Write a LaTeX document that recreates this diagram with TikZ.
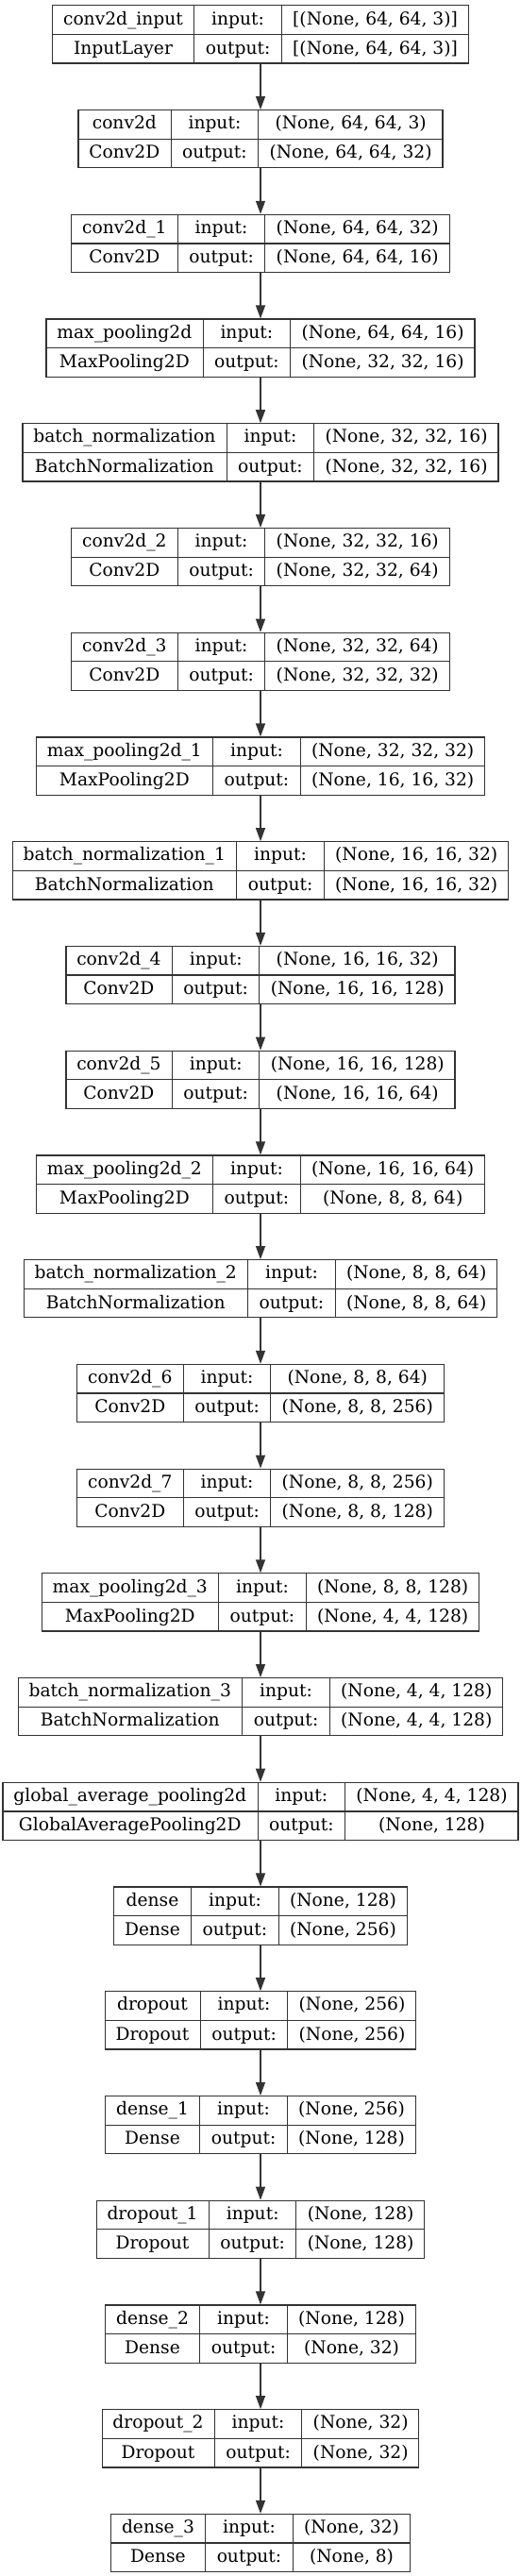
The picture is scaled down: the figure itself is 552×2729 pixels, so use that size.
\documentclass[tikz,border=0pt]{standalone}
\usepackage{fontspec}
\setmainfont{DejaVu Serif}
\usepackage{colortbl}
\usetikzlibrary{positioning,arrows.meta}

\newcommand\layerfont{\fontsize{14pt}{16pt}\selectfont}
\newcommand\rowstrut{\rule[-7.4pt]{0pt}{22.5pt}}
\setlength\tabcolsep{8.5pt}
\setlength\arrayrulewidth{0.9pt}
\arrayrulecolor{black!80}
% one layer record: index, name, class, input shape, output shape
\newcommand\layer[5]{%
	\pgfmathsetmacro\ytop{5.3+#1*110.73}%
	\node[layer, anchor=north] (L_#1) at (276,\ytop) {%
		\begin{tabular}{c|c|c}
			\rowstrut #2 & input: & #4\\ \hline
			\rowstrut #3 & output: & #5
		\end{tabular}};
}

\tikzset{
	layer/.style={draw=black!80, line width=0.9pt, inner sep=0pt, font=\layerfont},
	arr/.style={draw=black!80, line width=0.9pt, -{Triangle[length=10.5pt,width=7.5pt]}},
}

\begin{document}
\begin{tikzpicture}[x=0.75pt, y=-0.75pt]
	\useasboundingbox (0,0) rectangle (552,2729);
	
	% Layers
	\layer{0}{conv2d\_input}{InputLayer}{[(None, 64, 64, 3)]}{[(None, 64, 64, 3)]}
	\layer{1}{conv2d}{Conv2D}{(None, 64, 64, 3)}{(None, 64, 64, 32)}
	\layer{2}{conv2d\_1}{Conv2D}{(None, 64, 64, 32)}{(None, 64, 64, 16)}
	\layer{3}{max\_pooling2d}{MaxPooling2D}{(None, 64, 64, 16)}{(None, 32, 32, 16)}
	\layer{4}{batch\_normalization}{BatchNormalization}{(None, 32, 32, 16)}{(None, 32, 32, 16)}
	\layer{5}{conv2d\_2}{Conv2D}{(None, 32, 32, 16)}{(None, 32, 32, 64)}
	\layer{6}{conv2d\_3}{Conv2D}{(None, 32, 32, 64)}{(None, 32, 32, 32)}
	\layer{7}{max\_pooling2d\_1}{MaxPooling2D}{(None, 32, 32, 32)}{(None, 16, 16, 32)}
	\layer{8}{batch\_normalization\_1}{BatchNormalization}{(None, 16, 16, 32)}{(None, 16, 16, 32)}
	\layer{9}{conv2d\_4}{Conv2D}{(None, 16, 16, 32)}{(None, 16, 16, 128)}
	\layer{10}{conv2d\_5}{Conv2D}{(None, 16, 16, 128)}{(None, 16, 16, 64)}
	\layer{11}{max\_pooling2d\_2}{MaxPooling2D}{(None, 16, 16, 64)}{(None, 8, 8, 64)}
	\layer{12}{batch\_normalization\_2}{BatchNormalization}{(None, 8, 8, 64)}{(None, 8, 8, 64)}
	\layer{13}{conv2d\_6}{Conv2D}{(None, 8, 8, 64)}{(None, 8, 8, 256)}
	\layer{14}{conv2d\_7}{Conv2D}{(None, 8, 8, 256)}{(None, 8, 8, 128)}
	\layer{15}{max\_pooling2d\_3}{MaxPooling2D}{(None, 8, 8, 128)}{(None, 4, 4, 128)}
	\layer{16}{batch\_normalization\_3}{BatchNormalization}{(None, 4, 4, 128)}{(None, 4, 4, 128)}
	\layer{17}{global\_average\_pooling2d}{GlobalAveragePooling2D}{(None, 4, 4, 128)}{(None, 128)}
	\layer{18}{dense}{Dense}{(None, 128)}{(None, 256)}
	\layer{19}{dropout}{Dropout}{(None, 256)}{(None, 256)}
	\layer{20}{dense\_1}{Dense}{(None, 256)}{(None, 128)}
	\layer{21}{dropout\_1}{Dropout}{(None, 128)}{(None, 128)}
	\layer{22}{dense\_2}{Dense}{(None, 128)}{(None, 32)}
	\layer{23}{dropout\_2}{Dropout}{(None, 32)}{(None, 32)}
	\layer{24}{dense\_3}{Dense}{(None, 32)}{(None, 8)}
	
	% Arrows
	\foreach \i [remember=\i as \j (initially 0)] in {1,...,24}
		\draw[arr] (L_\j.south) -- (L_\i.north);
\end{tikzpicture}
\end{document}
